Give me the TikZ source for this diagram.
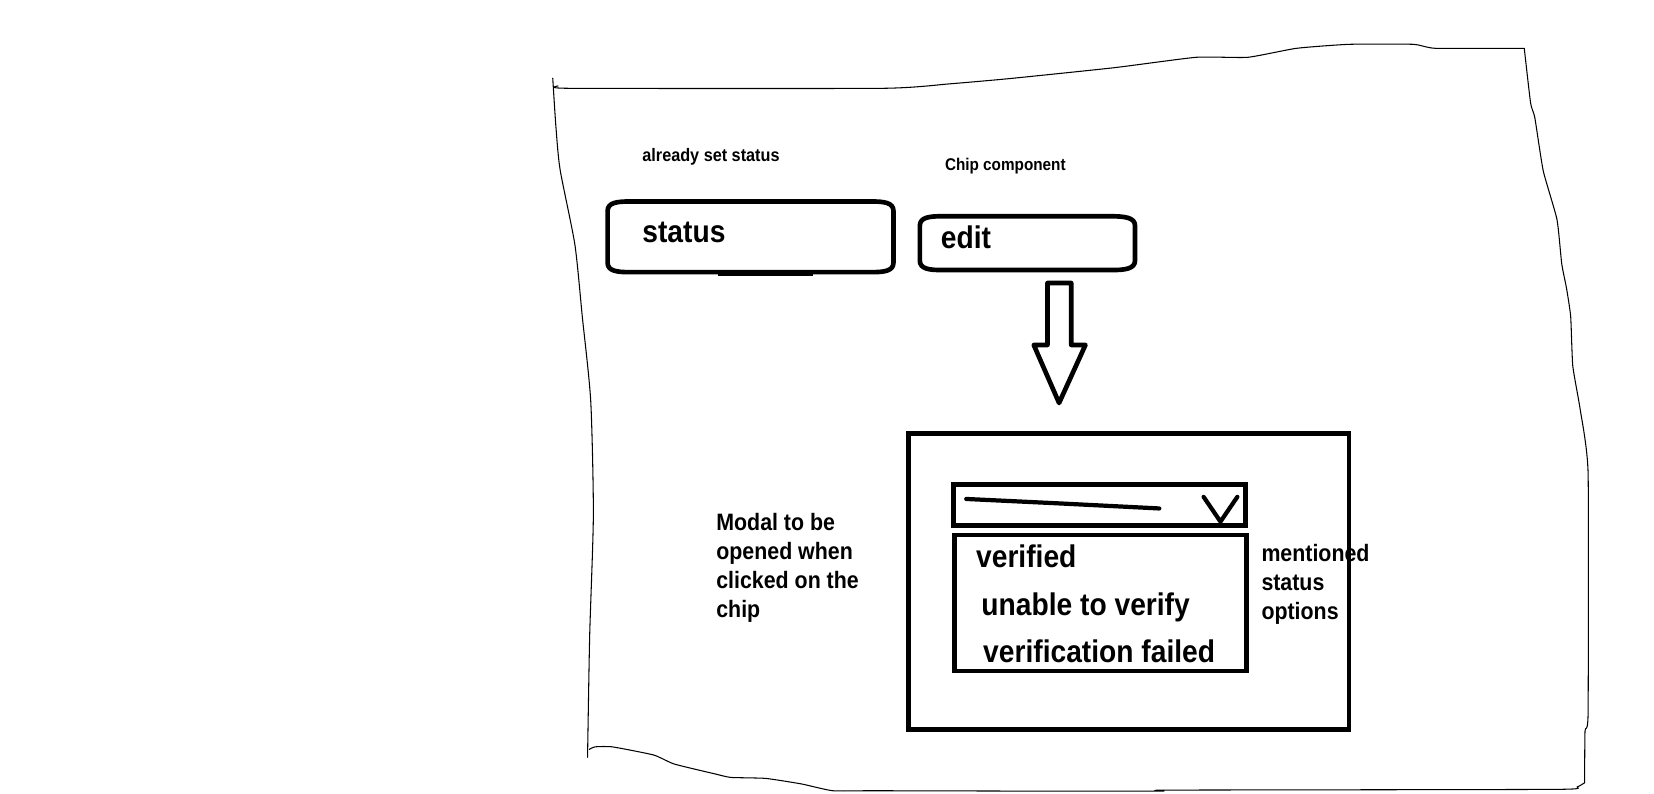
\documentclass[tikz,border=0pt]{standalone}
\usepackage{fontspec}
\setmainfont{Liberation Sans}[FakeStretch=0.9]
\tikzset{
  border/.style={line width=0.5pt, line join=round, line cap=round},
  thickline/.style={line width=2.2pt, line join=round},
  boxframe/.style={draw, line width=2.2pt, inner sep=0pt, outer sep=0pt},
  bigtxt/.style={font=\fontsize{14.85}{17}\selectfont\bfseries, inner sep=0pt, anchor=base west},
  midtxt/.style={font=\fontsize{11.25}{13.75}\selectfont\bfseries, inner sep=0pt, align=left, anchor=north west},
  smalltxt/.style={font=\fontsize{8.3}{10}\selectfont\bfseries, inner sep=0pt, anchor=base west},
}
\begin{document}
\begin{tikzpicture}[x=0.5pt,y=-0.5pt]
\useasboundingbox[fill=white] (0,0) rectangle (1568,752);

% hand-drawn page border
\draw[border] plot[smooth, tension=0.4] coordinates {(524,74) (527,120) (531,161) (545,232) (552,300) (560,380) (562.5,488) (559,603) (557,718)};
\draw[border] plot[smooth, tension=0.3] coordinates {(529,81.5) (540,83.7) (837,83.7) (900,79.5) (957,74.5) (1056,64.2) (1134,54.3) (1183,54.3) (1229,45.8) (1279,42) (1340,42) (1361,45.8) (1445,45.8)};
\draw[border] plot[smooth, tension=0.3] coordinates {(1445,45.8) (1451,97.7) (1455,111.5) (1463,162) (1476,208) (1480.5,250) (1485,273) (1489,300) (1491,347) (1498,388) (1505.5,448) (1505.5,676) (1502.6,693) (1502.2,742)};
\draw[border] plot[smooth, tension=0.3] coordinates {(1502.2,742) (1495,746) (1475,748.3) (1108,749) (1102,750) (1005,750) (828.6,749.6) (789.4,749.6) (760,743.2) (725.8,737.9) (693,737) (678.4,733.8) (639.2,724.3) (619.6,715.7) (580.5,708) (564,708) (558.6,710.4)};

% labels above chips
\node[smalltxt, font=\fontsize{8.55}{10}\selectfont\bfseries] (lblset) at (608.6,153.3) {already set status};
\node[smalltxt, font=\fontsize{8.05}{10}\selectfont\bfseries] (lblchip) at (895.5,161.8) {Chip component};

% status chip
\draw[thickline] (576,200) .. controls (576,192) and (585,191) .. (597,191) -- (826,191)
  .. controls (838,191) and (847,192) .. (847,200) -- (847,249)
  .. controls (847,257) and (838,258) .. (826,258) -- (597,258)
  .. controls (585,258) and (576,257) .. (576,249) -- cycle;
\draw[line width=1.6pt] (681,260.5) -- (771,260.5);
\node[bigtxt] (statustxt) at (608.6,230) {status};

% edit chip
\draw[thickline] (872,214) .. controls (872,206) and (881,205) .. (893,205) -- (1052,205)
  .. controls (1066,205) and (1076,206) .. (1076,214) -- (1076,247)
  .. controls (1076,255) and (1066,256) .. (1054,256) -- (893,256)
  .. controls (881,256) and (872,255) .. (872,247) -- cycle;
\node[bigtxt] (edittxt) at (891.6,235.6) {edit};

% block arrow
\draw[thickline] (993,268.3) -- (1015.5,268.3) -- (1015.5,327) -- (1029,327) -- (1004,382)
  -- (980,327) -- (993,327) -- cycle;

% modal
\node[boxframe, minimum width=209pt, minimum height=140.25pt] (modal) at (1070,551.25) {};
\node[boxframe, minimum width=138.5pt, minimum height=19.5pt] (select) at (1042.5,478.5) {};
\draw[line width=2pt, line cap=round] (916,473) -- (1000,477) -- (1099,482);
\draw[line width=2pt, line cap=round, line join=round] (1141,471) -- (1157,494.5) -- (1173,471);
\node[boxframe, minimum width=138.25pt, minimum height=64.5pt] (options) at (1043.25,571.5) {};
\node[bigtxt] (opt1) at (925,537.8) {verified};
\node[bigtxt] (opt2) at (930,583.6) {unable to verify};
\node[bigtxt] (opt3) at (931.7,627.6) {verification failed};

% side notes
\node[midtxt] (lblmodal) at (678.7,486) {Modal to be\\opened when\\clicked on the\\chip};
\node[midtxt] (lblopts) at (1195.5,515.5) {mentioned\\status\\options};
\end{tikzpicture}
\end{document}
